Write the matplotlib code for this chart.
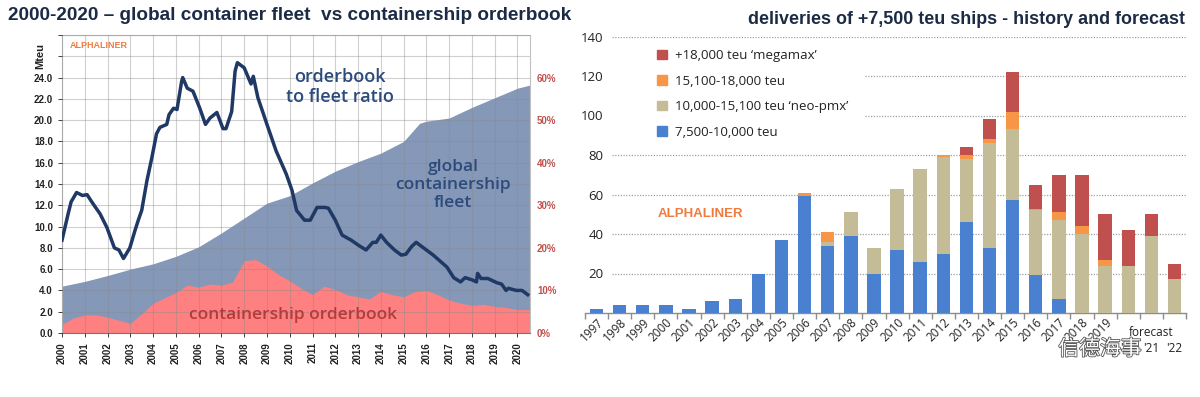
import matplotlib
matplotlib.use('Agg')
import matplotlib.pyplot as plt
import numpy as np
from matplotlib.patches import Patch, Rectangle
import matplotlib.patheffects as pe

# ---------------- left chart data ----------------
fleet_year = [2000, 2001, 2002, 2003, 2004, 2005, 2006, 2007, 2008, 2009, 2010,
              2011, 2012, 2013, 2014, 2015, 2015.7, 2016, 2017, 2018, 2019, 2020, 2020.55]
fleet_mteu = [4.4, 4.85, 5.4, 6.0, 6.5, 7.2, 8.1, 9.4, 10.8, 12.2, 12.9,
              14.1, 15.2, 16.1, 16.9, 18.0, 19.7, 19.9, 20.2, 21.2, 22.1, 23.0, 23.3]

ob_year = [2000, 2000.5, 2001, 2001.5, 2002, 2002.5, 2003, 2003.5, 2004, 2004.5,
           2005, 2005.5, 2006, 2006.5, 2007, 2007.5, 2008, 2008.5, 2009, 2009.5,
           2010, 2010.5, 2011, 2011.5, 2012, 2012.5, 2013, 2013.5, 2014, 2014.5,
           2015, 2015.5, 2016, 2016.5, 2017, 2017.5, 2018, 2018.5, 2019, 2019.5,
           2020, 2020.55]
ob_mteu = [0.8, 1.4, 1.7, 1.7, 1.5, 1.2, 0.9, 1.8, 2.8, 3.3,
           3.8, 4.5, 4.3, 4.6, 4.5, 4.8, 6.8, 6.9, 6.3, 5.5,
           4.9, 4.2, 3.6, 4.4, 4.1, 3.6, 3.4, 3.2, 3.9, 3.6,
           3.4, 3.9, 4.0, 3.6, 3.1, 2.8, 2.6, 2.7, 2.5, 2.4,
           2.2, 2.2]

ratio_year = [2000.0, 2000.27, 2000.4, 2000.64, 2000.9, 2001.1, 2001.37, 2001.67, 2001.97,
              2002.3, 2002.5, 2002.7, 2002.98, 2003.2, 2003.35, 2003.5, 2003.73, 2003.95,
              2004.15, 2004.3, 2004.6, 2004.7, 2004.9, 2005.05, 2005.25, 2005.3, 2005.5,
              2005.75, 2006.05, 2006.3, 2006.5, 2006.8, 2007.07, 2007.2, 2007.45, 2007.6,
              2007.7, 2008.0, 2008.3, 2008.4, 2008.6, 2009.0, 2009.4, 2009.85, 2010.1,
              2010.3, 2010.65, 2010.9, 2011.2, 2011.55, 2011.7, 2012.0, 2012.3, 2012.7,
              2013.05, 2013.35, 2013.65, 2013.8, 2014.0, 2014.25, 2014.6, 2014.9, 2015.1,
              2015.35, 2015.55, 2015.8, 2016.3, 2016.9, 2017.2, 2017.5, 2017.7, 2018.0,
              2018.2, 2018.25, 2018.4, 2018.7, 2019.1, 2019.3, 2019.5, 2019.6, 2019.95,
              2020.2, 2020.45]
ratio_pct = [21.8, 28.0, 30.8, 33.0, 32.3, 32.5, 30.3, 28.0, 24.8,
             20.0, 19.5, 17.5, 20.0, 24.0, 26.5, 28.8, 35.8, 41.3,
             46.8, 48.3, 49.0, 51.3, 52.8, 52.5, 59.0, 60.0, 57.5,
             56.8, 52.8, 49.0, 50.5, 51.8, 48.0, 48.0, 52.0, 61.5,
             63.5, 62.3, 58.5, 60.3, 55.3, 49.0, 42.8, 37.3, 33.5,
             28.8, 26.5, 26.5, 29.5, 29.5, 29.3, 26.5, 23.0, 21.8,
             20.5, 19.5, 21.3, 21.3, 23.0, 21.3, 19.5, 18.3, 18.5,
             20.3, 21.3, 20.3, 18.3, 15.5, 13.0, 12.0, 13.0, 12.5,
             12.0, 14.0, 12.8, 12.8, 11.8, 11.5, 10.0, 10.5, 10.0,
             10.0, 9.0]

left_years = list(range(2000, 2021))
left_yticks = [0, 2, 4, 6, 8, 10, 12, 14, 16, 18, 20, 22, 24, 26, 28]
right_pct_ticks = [0, 10, 20, 30, 40, 50, 60]

# ---------------- right chart data ----------------
deliv_years = ['1997', '1998', '1999', '2000', '2001', '2002', '2003', '2004', '2005',
               '2006', '2007', '2008', '2009', '2010', '2011', '2012', '2013', '2014',
               '2015', '2016', '2017', '2018', '2019', "'20", "'21", "'22"]
s_7500 = [2, 4, 4, 4, 2, 6, 7, 20, 37, 59, 34, 39, 20, 32, 26, 30, 46, 33, 57, 19, 7, 0, 0, 0, 0, 0]
s_10000 = [0, 0, 0, 0, 0, 0, 0, 0, 0, 0, 2, 12, 13, 31, 47, 49, 32, 53, 36, 33, 40, 40, 24, 24, 39, 17]
s_15100 = [0, 0, 0, 0, 0, 0, 0, 0, 0, 2, 5, 0, 0, 0, 0, 1, 2, 2, 9, 0.7, 4, 4, 3, 0, 0, 0]
s_18000 = [0, 0, 0, 0, 0, 0, 0, 0, 0, 0, 0, 0, 0, 0, 0, 0, 4, 10, 20, 12, 19, 26, 23, 18, 11, 8]
series_labels = ["+18,000 teu \u2018megamax\u2019", "15,100-18,000 teu",
                 "10,000-15,100 teu \u2018neo-pmx\u2019", "7,500-10,000 teu"]
right_yticks = [20, 40, 60, 80, 100, 120, 140]

C_BLUE, C_BEIGE, C_ORANGE, C_RED = '#4a80d0', '#c4bc96', '#f79646', '#c0504d'
NAVY = '#1f3864'

plt.rcParams['font.family'] = ['Open Sans', 'DejaVu Sans']

W, H = 1200, 397
fig = plt.figure(figsize=(W / 100, H / 100), dpi=100)

# ================= LEFT =================
axL = fig.add_axes([62 / W, 1 - 333 / H, (530 - 62) / W, (333 - 35) / H])
axL.set_xlim(2000, 2020.55)
axL.set_ylim(0, 28)
axL.fill_between(fleet_year, fleet_mteu, color='#8598b8', lw=0, zorder=1)
axL.fill_between(ob_year, ob_mteu, color='#ff8080', lw=0, zorder=1.5)
axL.set_axisbelow(False)
axL.set_yticks(left_yticks)
axL.set_yticklabels([f'{v:.1f}' if v <= 24 else '' for v in left_yticks])
axL.set_xticks(left_years)
axL.set_xticklabels([str(y) for y in left_years], rotation=90)
axL.grid(True, color='#8a8a8a', alpha=0.4, lw=0.8)
for lab in axL.get_xticklabels() + axL.get_yticklabels():
    lab.set_fontweight('bold')
    lab.set_fontfamily(['Liberation Sans', 'DejaVu Sans'])
axL.tick_params(axis='both', labelsize=7, colors='#222222', length=3, width=0.6)
for s in axL.spines.values():
    s.set_color('#c0c0c0')
    s.set_linewidth(0.8)
axL.spines['bottom'].set_color('#777777')

axR = axL.twinx()
axR.set_ylim(0, 70)
axR.plot(ratio_year, ratio_pct, color=NAVY, lw=2.5, solid_joinstyle='round')
axR.set_yticks(right_pct_ticks)
axR.set_yticklabels([f'{v}%' for v in right_pct_ticks])
for lab in axR.get_yticklabels():
    lab.set_fontfamily(['Liberation Sans', 'DejaVu Sans'])
    lab.set_fontweight('bold')
axR.tick_params(axis='y', labelsize=7, colors='#c0504d', length=0, pad=5)
for s in axR.spines.values():
    s.set_visible(False)

fig.text(8 / W, 1 - 16 / H, '2000-2020 \u2013 global container fleet  vs containership orderbook',
         fontsize=13.7, fontweight='bold', color='#1c2b45', va='center', ha='left',
         family=['Liberation Sans', 'DejaVu Sans'])
fig.text(40 / W, 1 - 56 / H, 'Mteu', rotation=90, fontsize=8, fontweight='bold',
         color='#222222', va='center', ha='center', family=['Liberation Sans', 'DejaVu Sans'])
fig.text(70 / W, 1 - 45 / H, 'ALPHALINER', fontsize=6.5, fontweight='bold', color='#f07b3f',
         va='center', ha='left', family=['Liberation Sans', 'DejaVu Sans'])
fig.text(340 / W, 1 - 87 / H, 'orderbook\nto fleet ratio', fontsize=13, fontweight='semibold',
         color='#2c4a7c', ha='center', va='center', linespacing=1.15)
fig.text(453 / W, 1 - 185 / H, 'global\ncontainership\nfleet', fontsize=12.5, fontweight='semibold',
         color='#2c4a7c', ha='center', va='center', linespacing=1.2)
fig.text(293 / W, 1 - 315 / H, 'containership orderbook', fontsize=12.5, fontweight='semibold',
         color='#b53a3a', ha='center', va='center')

# ================= RIGHT =================
axB = fig.add_axes([585 / W, 1 - 313 / H, 601 / W, (313 - 36.5) / H])
x = np.arange(len(deliv_years))
bw = 0.58
b1 = np.array(s_7500, float)
b2 = np.array(s_10000, float)
b3 = np.array(s_15100, float)
b4 = np.array(s_18000, float)
axB.bar(x, b1, bw, color=C_BLUE, zorder=3)
axB.bar(x, b2, bw, bottom=b1, color=C_BEIGE, zorder=3)
axB.bar(x, b3, bw, bottom=b1 + b2, color=C_ORANGE, zorder=3)
axB.bar(x, b4, bw, bottom=b1 + b2 + b3, color=C_RED, zorder=3)
axB.set_xlim(-0.5, 25.5)
axB.set_ylim(0, 140)
for v in right_yticks:
    axB.axhline(v, xmin=0.045, xmax=1, color='#a0a0a0', lw=0.9, ls=(0, (1, 1.2)), zorder=1)
for s in ['top', 'right', 'left']:
    axB.spines[s].set_visible(False)
axB.spines['bottom'].set_color('#8c8c8c')
axB.spines['bottom'].set_linewidth(1.0)
axB.set_yticks(right_yticks)
axB.tick_params(axis='y', length=0, pad=-13.5, labelsize=9.5, colors='#222222')
axB.set_xticks(x)
axB.set_xticks(np.arange(-0.5, 25.6, 1), minor=True)
axB.tick_params(axis='x', which='major', length=0, pad=2)
axB.tick_params(axis='x', which='minor', length=4, color='#8c8c8c', width=1)
axB.set_xticklabels([lab if not lab.startswith("'") else '' for lab in deliv_years],
                    rotation=45, ha='right', va='top', rotation_mode='anchor', fontsize=8.5,
                    color='#222222')
trB = axB.get_xaxis_transform()
for i, lab in enumerate(deliv_years):
    if lab.startswith("'"):
        axB.text(i, -0.127, lab, transform=trB, ha='center', va='center', fontsize=8.5,
                 color='#222222')
axB.text(24, -0.072, 'forecast', transform=trB, ha='center', va='center', fontsize=8.5,
         color='#222222')

fig.text(1185 / W, 1 - 20 / H, 'deliveries of +7,500 teu ships - history and forecast',
         fontsize=12.9, fontweight='bold', color='#1c2b45', ha='right', va='center',
         family=['Liberation Sans', 'DejaVu Sans'])
fig.text(658 / W, 1 - 214 / H, 'ALPHALINER', fontsize=9.5, fontweight='bold', color='#f07b3f',
         ha='left', va='center', family=['Liberation Sans', 'DejaVu Sans'])

# legend background (covers grid lines as in the original)
fig.patches.append(Rectangle((608 / W, 1 - 146 / H), (865 - 608) / W, 100 / H,
                             transform=fig.transFigure, facecolor='white', edgecolor='none',
                             zorder=2))
handles = [Patch(color=C_RED), Patch(color=C_ORANGE), Patch(color=C_BEIGE), Patch(color=C_BLUE)]
leg = fig.legend(handles, series_labels, loc='upper left', bbox_to_anchor=(657 / W, 1 - 49 / H),
                 frameon=False, handlelength=0.75, handleheight=0.75, handletextpad=0.6,
                 labelspacing=0.95, fontsize=9.5, borderpad=0, borderaxespad=0)
for t in leg.get_texts():
    t.set_color('#222222')

# watermark
fig.text(1100 / W, 1 - 349 / H, '信德海事', fontsize=15, color='white',
         family=['Noto Sans CJK SC', 'DejaVu Sans'], ha='center', va='center',
         path_effects=[pe.withStroke(linewidth=1.2, foreground='#555555')])

fig.savefig('out.png', dpi=100)
